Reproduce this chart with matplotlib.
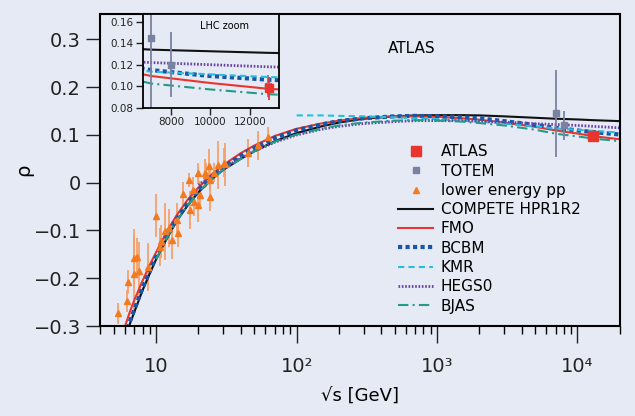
import matplotlib
matplotlib.use("Agg")
import matplotlib.pyplot as plt
from matplotlib.lines import Line2D
from matplotlib.ticker import NullFormatter

plt.rcParams['font.family'] = ['DejaVu Sans']

bg = "#e6eaf5"

# model curves, values
sqrt_s = [6.0, 6.5, 7, 8, 9, 10, 12, 14, 17, 20, 25, 30, 40, 50, 70, 100, 150, 200,
          300, 500, 700, 1000, 1500, 2000, 3000, 5000, 7000, 10000, 13000, 20000]
compete = [-0.33, -0.295, -0.27, -0.225, -0.19, -0.16, -0.115, -0.08, -0.045, -0.02, 0.008,
           0.027, 0.05, 0.066, 0.087, 0.104, 0.118, 0.126, 0.134, 0.139, 0.141, 0.1415,
           0.1415, 0.141, 0.139, 0.136, 0.134, 0.1325, 0.131, 0.129]
fmo = [-0.30, -0.27, -0.245, -0.205, -0.172, -0.145, -0.10, -0.068, -0.033, -0.01, 0.018,
       0.037, 0.062, 0.078, 0.098, 0.113, 0.124, 0.13, 0.136, 0.139, 0.139, 0.138,
       0.135, 0.132, 0.126, 0.117, 0.1095, 0.103, 0.0975, 0.091]
bcbm = [-0.32, -0.29, -0.265, -0.22, -0.185, -0.155, -0.11, -0.076, -0.04, -0.015, 0.013,
        0.032, 0.057, 0.073, 0.094, 0.11, 0.122, 0.129, 0.135, 0.139, 0.14, 0.139,
        0.137, 0.135, 0.129, 0.121, 0.115, 0.1095, 0.106, 0.101]

s_kmr = [100, 150, 200, 300, 500, 700, 1000, 1500, 2000, 3000, 5000, 7000, 10000, 13000, 20000]
kmr = [0.141, 0.141, 0.140, 0.139, 0.137, 0.135, 0.133, 0.130, 0.128, 0.124, 0.118,
       0.1135, 0.111, 0.1085, 0.105]

s_hegs = [20, 25, 30, 40, 50, 70, 100, 150, 200, 300, 500, 700, 1000, 1500, 2000, 3000,
          5000, 7000, 10000, 13000, 20000]
hegs0 = [-0.005, 0.015, 0.03, 0.052, 0.066, 0.085, 0.1, 0.112, 0.118, 0.124, 0.128, 0.13,
         0.13, 0.13, 0.129, 0.127, 0.1235, 0.122, 0.12, 0.118, 0.115]

s_bjas = [10, 12, 14, 17, 20, 25, 30, 40, 50, 70, 100, 150, 200, 300, 500, 700, 1000,
          1500, 2000, 3000, 5000, 7000, 10000, 13000, 20000]
bjas = [-0.16, -0.113, -0.08, -0.045, -0.02, 0.008, 0.027, 0.05, 0.066, 0.086, 0.101,
        0.113, 0.12, 0.126, 0.13, 0.131, 0.13, 0.128, 0.125, 0.12, 0.111, 0.1025, 0.097,
        0.0925, 0.087]

# measurements
atlas_s = [13000]
atlas_rho = [0.098]
atlas_err = [0.011]

totem_s = [7000, 8000, 12900]
totem_rho = [0.145, 0.12, 0.10]
totem_err = [0.091, 0.03, 0.01]

pp_s = [5.37, 6.2, 6.3, 6.9, 7.0, 7.3, 7.6, 8.8, 10.0, 10.6, 10.9, 11.6, 12.3, 12.9, 14.0,
        14.2, 15.6, 17.2, 17.3, 18.4, 18.7, 19.8, 19.9, 20.5, 22.3, 22.8, 23.6, 24.2, 24.2,
        26.0, 27.5, 31.0, 30.6, 44.7, 52.8, 62.7]
pp_rho = [-0.273, -0.247, -0.207, -0.191, -0.157, -0.155, -0.185, -0.176, -0.069, -0.135,
          -0.123, -0.102, -0.095, -0.12, -0.078, -0.105, -0.024, 0.006, -0.057, -0.015,
          -0.04, 0.02, -0.047, -0.026, 0.02, 0.016, 0.035, 0.006, -0.029, 0.021, 0.037,
          0.039, 0.042, 0.062, 0.078, 0.096]
pp_err = [0.022, 0.023, 0.025, 0.08, 0.06, 0.04, 0.06, 0.05, 0.045, 0.04, 0.035, 0.06, 0.04,
          0.04, 0.035, 0.03, 0.025, 0.015, 0.04, 0.027, 0.03, 0.022, 0.035, 0.03, 0.03,
          0.025, 0.035, 0.02, 0.03, 0.02, 0.05, 0.045, 0.03, 0.03, 0.03, 0.02]

c_black = "#111111"
c_red = "#e8352e"
c_blue = "#1a56a8"
c_cyan = "#22c0dc"
c_purple = "#6b43a8"
c_teal = "#239a8a"
c_orange = "#f47a20"
c_gray = "#7a82a2"

fig = plt.figure(figsize=(6.35, 4.16), dpi=100, facecolor=bg)
ax = fig.add_axes([0.158, 0.2163, 0.818, 0.7497], facecolor=bg)


def draw_models(a):
    a.plot(sqrt_s, compete, color=c_black, lw=1.5)
    a.plot(sqrt_s, fmo, color=c_red, lw=1.5)
    a.plot(sqrt_s, bcbm, color=c_blue, lw=3, ls=(0, (1, 0.8)))
    a.plot(s_kmr, kmr, color=c_cyan, lw=1.5, ls=(0, (3, 2)))
    a.plot(s_hegs, hegs0, color=c_purple, lw=2, ls=(0, (0.6, 0.6)))
    a.plot(s_bjas, bjas, color=c_teal, lw=1.5, ls=(0, (5, 2, 1, 2)))


ax.errorbar(pp_s, pp_rho, yerr=pp_err, fmt="^", color=c_orange, ms=5, mec=c_orange,
            ecolor="#f6a06a", elinewidth=1.3, capsize=0)
draw_models(ax)
ax.errorbar(totem_s, totem_rho, yerr=totem_err, fmt="s", color=c_gray, ms=5,
            elinewidth=1.3, capsize=0)
ax.errorbar(atlas_s, atlas_rho, yerr=atlas_err, fmt="s", color=c_red, ms=7,
            elinewidth=1.3, capsize=0)

ax.set_xscale("log")
ax.set_xlim(4, 2e4)
ax.set_ylim(-0.3, 0.353)
yt = [-0.3, -0.2, -0.1, 0, 0.1, 0.2, 0.3]
ax.set_yticks(yt)
ax.set_yticklabels(["\u22120.3", "\u22120.2", "\u22120.1", "0", "0.1", "0.2", "0.3"])
ax.set_xticks([10, 100, 1000, 10000])
ax.set_xticklabels(["10", "10\u00b2", "10\u00b3", "10\u2074"])
ax.xaxis.set_minor_formatter(NullFormatter())
ax.tick_params(direction="out", width=1, labelsize=14, colors="#222222")
ax.tick_params(axis="x", length=12, pad=10)
ax.tick_params(axis="y", length=10, pad=4)
ax.tick_params(which="minor", direction="out", length=6, width=1)
for sp in ax.spines.values():
    sp.set_linewidth(1.5)
ax.set_xlabel("\u221as [GeV]", fontsize=13, labelpad=9)
ax.set_ylabel("\u03c1", fontsize=14, labelpad=0)
ax.text(0.6, 0.89, "ATLAS", transform=ax.transAxes, ha="center", va="center", fontsize=11)

handles = [
    Line2D([], [], ls="none", marker="s", color=c_red, ms=7),
    Line2D([], [], ls="none", marker="s", color=c_gray, ms=5),
    Line2D([], [], ls="none", marker="^", color=c_orange, ms=5),
    Line2D([], [], color=c_black, lw=1.5),
    Line2D([], [], color=c_red, lw=1.5),
    Line2D([], [], color=c_blue, lw=3, ls=(0, (1, 0.8))),
    Line2D([], [], color=c_cyan, lw=1.5, ls=(0, (3, 2))),
    Line2D([], [], color=c_purple, lw=2, ls=(0, (0.6, 0.6))),
    Line2D([], [], color=c_teal, lw=1.5, ls=(0, (5, 2, 1, 2))),
]
labels = ["ATLAS", "TOTEM", "lower energy pp", "COMPETE HPR1R2", "FMO", "BCBM", "KMR",
          "HEGS0", "BJAS"]
ax.legend(handles, labels, loc="lower left", bbox_to_anchor=(0.573, 0.04), frameon=False,
          fontsize=11, handlelength=2.3, handletextpad=0.5, labelspacing=0.28,
          borderpad=0, borderaxespad=0)

# LHC inset
ins = fig.add_axes([0.2257, 0.741, 0.2142, 0.225], facecolor=bg)
draw_models(ins)
ins.errorbar(totem_s, totem_rho, yerr=totem_err, fmt="s", color=c_gray, ms=4,
             elinewidth=1.3, capsize=0)
ins.errorbar(atlas_s, atlas_rho, yerr=atlas_err, fmt="s", color=c_red, ms=6,
             elinewidth=1.3, capsize=0)
ins.set_xlim(6600, 13500)
ins.set_ylim(0.08, 0.167)
ins.set_xticks([8000, 10000, 12000])
ins.set_yticks([0.08, 0.10, 0.12, 0.14, 0.16])
ins.set_yticklabels(["0.08", "0.10", "0.12", "0.14", "0.16"])
ins.tick_params(direction="out", length=5, width=1, labelsize=7.5, colors="#222222", pad=2)
for sp in ins.spines.values():
    sp.set_linewidth(1.3)
ins.text(0.6, 0.87, "LHC zoom", transform=ins.transAxes, ha="center", va="center",
         fontsize=7)

fig.savefig("out.png", dpi=100, facecolor=bg)
